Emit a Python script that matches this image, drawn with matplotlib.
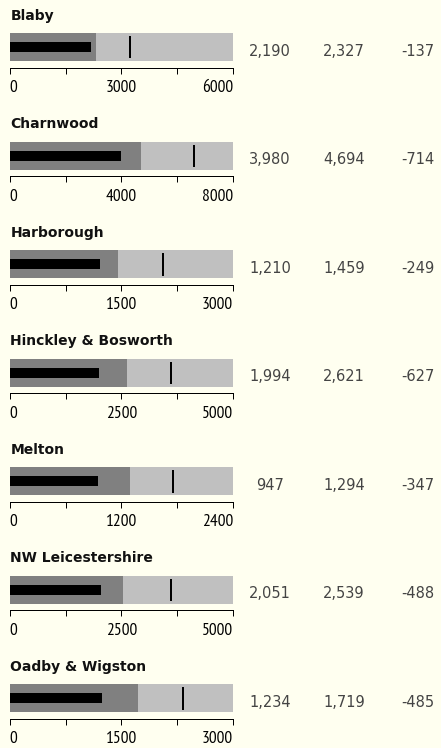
import matplotlib
matplotlib.use('Agg')
import matplotlib.pyplot as plt
from matplotlib import font_manager as fm

names = ["Blaby", "Charnwood", "Harborough", "Hinckley & Bosworth",
         "Melton", "NW Leicestershire", "Oadby & Wigston"]
actual = [2190, 3980, 1210, 1994, 947, 2051, 1234]
compare = [2327, 4694, 1459, 2621, 1294, 2539, 1719]
diff = [-137, -714, -249, -627, -347, -488, -485]
markers = [3230, 6610, 2065, 3610, 1750, 3610, 2325]
maxima = [6000, 8000, 3000, 5000, 2400, 5000, 3000]

W, H = 441, 748
BG = '#FFFFF0'
fig = plt.figure(figsize=(W / 100, H / 100), dpi=100, facecolor=BG)

avail = {f.name for f in fm.fontManager.ttflist}
tick_font = dict(family='DejaVu Sans', size=11)
for fam, sz in [('PT Sans Narrow', 12.5), ('Liberation Sans Narrow', 12),
                ('Archivo Narrow', 12), ('Roboto Condensed', 11.5)]:
    if fam in avail:
        tick_font = dict(family=fam, size=sz)
        break

X0, X1 = 9.7, 233.0
BAR_H = 28.0
TOP0 = 33.3
STEP = 108.5
PX = 0.72  # points per pixel

for i, name in enumerate(names):
    top = TOP0 + STEP * i
    mx = maxima[i]
    ax = fig.add_axes([X0 / W, 1 - (top + BAR_H) / H, (X1 - X0) / W, BAR_H / H])
    ax.set_facecolor('none')
    ax.barh(0.5, mx, height=1, color='#C0C0C0', linewidth=0)
    ax.barh(0.5, compare[i], height=1, color='#808080', linewidth=0)
    ax.barh(0.5, actual[i], height=0.36, color='black', linewidth=0)
    ax.plot([markers[i], markers[i]], [0.1, 0.9], color='black', lw=2 * PX,
            solid_capstyle='butt')
    ax.set_xlim(0, mx)
    ax.set_ylim(0, 1)
    for s in ['top', 'left', 'right']:
        ax.spines[s].set_visible(False)
    ax.spines['bottom'].set_position(('outward', 6.3 * PX))
    ax.spines['bottom'].set_linewidth(1 * PX)
    ax.set_yticks([])
    ticks = [0, mx / 4, mx / 2, 3 * mx / 4, mx]
    ax.set_xticks(ticks)
    ax.set_xticklabels(['0', '', f'{mx // 2}', '', f'{mx}'], fontdict=tick_font)
    ax.set_xticks([0, mx], minor=True)
    ax.tick_params(axis='x', which='major', direction='out', length=6 * PX,
                   width=1 * PX, pad=4.8, colors='black')
    ax.tick_params(axis='x', which='minor', direction='out', length=8.3 * PX,
                   width=1 * PX)
    labs = ax.get_xticklabels()
    labs[0].set_horizontalalignment('left')
    labs[-1].set_horizontalalignment('right')

    fig.text(10.5 / W, 1 - (top - 13.3) / H, name, fontweight='bold',
             fontsize=10, va='baseline', ha='left', color='#111111',
             family='DejaVu Sans')
    base = 1 - (top + 22.4) / H
    for xc, val in zip([270, 344, 418], [actual[i], compare[i], diff[i]]):
        fig.text(xc / W, base, f'{val:,}', ha='center', va='baseline',
                 fontsize=10.5, color='#444444', family='DejaVu Sans')

fig.savefig('out.png', dpi=100, facecolor=BG)
